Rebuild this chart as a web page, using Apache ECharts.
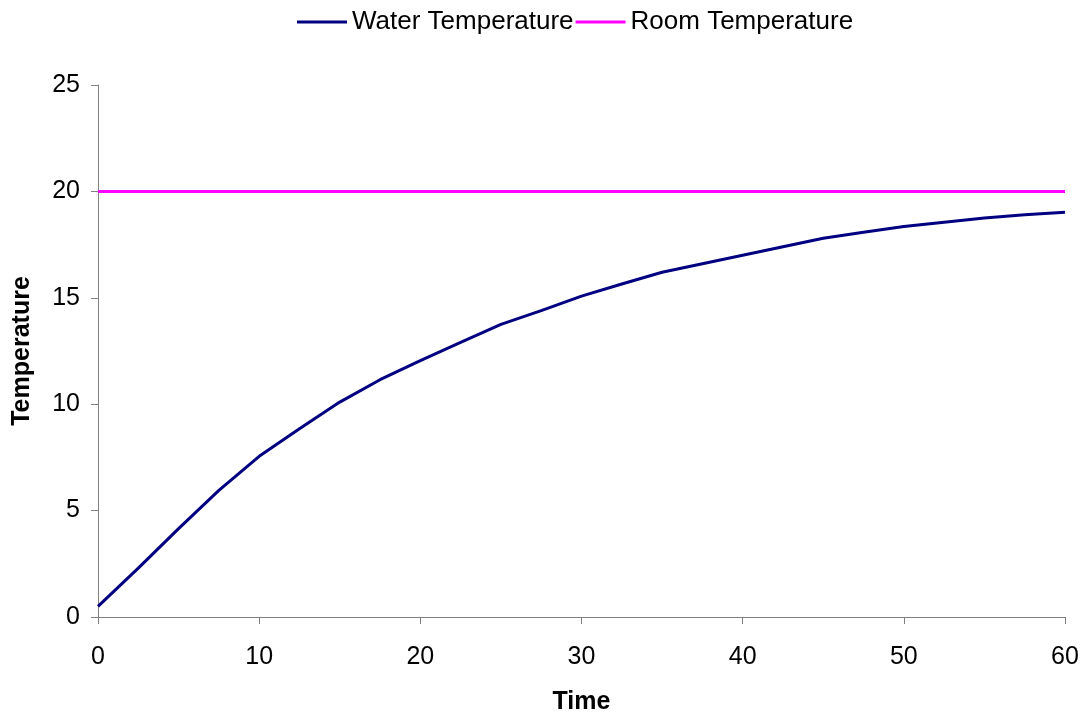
<!DOCTYPE html>
<html>
<head>
<meta charset="utf-8">
<script src="https://cdn.jsdelivr.net/npm/echarts@6/dist/echarts.min.js"></script>
<style>html,body{margin:0;padding:0;background:#fff}#c{width:1086px;height:715px}</style>
</head>
<body>
<div id="c"></div>
<script>
const times = [0, 2.5, 5, 7.5, 10, 12.5, 15, 17.5, 20, 22.5, 25, 27.5, 30, 32.5, 35, 37.5, 40, 42.5, 45, 47.5, 50, 52.5, 55, 57.5, 60];
const waterTemp = [0.5, 2.3, 4.15, 5.95, 7.55, 8.85, 10.1, 11.15, 12.05, 12.9, 13.75, 14.4, 15.08, 15.65, 16.2, 16.6, 17.0, 17.4, 17.8, 18.08, 18.35, 18.55, 18.75, 18.9, 19.02];
const roomTimes = [0, 60];
const roomTemp = [20, 20];
const seriesNames = ['Water Temperature', 'Room Temperature'];

const font = 'Liberation Sans, Arial, sans-serif';
const chart = echarts.init(document.getElementById('c'), null, {renderer: 'canvas'});
chart.setOption({
  animation: false,
  backgroundColor: '#fff',
  textStyle: {fontFamily: font},
  legend: {
    top: 4, left: 292,
    itemWidth: 50, itemHeight: 3, itemGap: 2,
    icon: 'rect',
    textStyle: {fontSize: 26, color: '#000', fontFamily: font},
    data: seriesNames
  },
  grid: {left: 98, right: 21, top: 85, bottom: 98, containLabel: false, outerBoundsMode: 'none'},
  xAxis: {
    type: 'value', min: 0, max: 60, interval: 10,
    name: 'Time', nameLocation: 'middle', nameGap: 73,
    nameTextStyle: {fontSize: 25, fontWeight: 'bold', color: '#000', fontFamily: font},
    axisLine: {lineStyle: {color: '#808080', width: 1}},
    axisTick: {show: true, length: 7, lineStyle: {color: '#808080'}},
    axisLabel: {fontSize: 25, color: '#000', margin: 28, fontFamily: font},
    splitLine: {show: false}
  },
  yAxis: {
    type: 'value', min: 0, max: 25, interval: 5,
    name: 'Temperature', nameLocation: 'middle', nameGap: 63,
    nameTextStyle: {fontSize: 25, fontWeight: 'bold', color: '#000', fontFamily: font},
    axisLine: {show: true, lineStyle: {color: '#808080', width: 1}},
    axisTick: {show: true, length: 7, lineStyle: {color: '#808080'}},
    axisLabel: {fontSize: 25, color: '#000', margin: 18, fontFamily: font},
    splitLine: {show: false}
  },
  series: [
    {
      name: seriesNames[0], type: 'line', symbol: 'none',
      data: times.map((t, i) => [t, waterTemp[i]]),
      lineStyle: {color: '#000080', width: 3},
      itemStyle: {color: '#000080'}
    },
    {
      name: seriesNames[1], type: 'line', symbol: 'none',
      data: roomTimes.map((t, i) => [t, roomTemp[i]]),
      lineStyle: {color: '#FF00FF', width: 3},
      itemStyle: {color: '#FF00FF'}
    }
  ]
});
</script>
</body>
</html>
